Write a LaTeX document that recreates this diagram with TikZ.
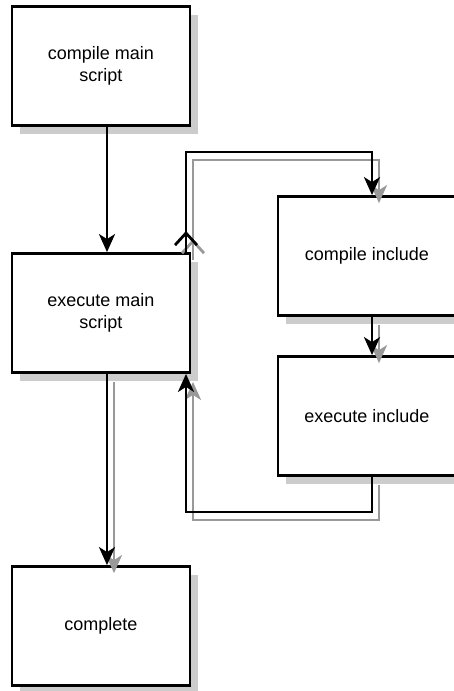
\documentclass[tikz,border=0pt]{standalone}
\usepackage{fontspec}
\setmainfont{Liberation Sans}
\usetikzlibrary{arrows.meta,shadows}
\begin{document}
\begin{tikzpicture}[x=1pt,y=-1pt,
		stepbox/.style={draw,line width=2.8pt,fill=white,minimum width=178pt,minimum height=119pt,align=center,font=\fontsize{18}{22}\selectfont,drop shadow={shadow xshift=8pt,shadow yshift=-8pt,fill=black!20,opacity=1}},
		flow/.style={line width=2.8pt,-{Stealth[length=18pt,width=16pt,inset=5pt]}},
		ghost/.style={black!40,transform canvas={shift={(7pt,-8pt)}}}]
			\useasboundingbox (0,0) rectangle (453,691);
			\node[stepbox] (b1) at (101,66) {compile main\\script};
			\node[stepbox] (b2) at (101,313) {execute main\\script};
			\node[stepbox] (b3) at (367,256) {compile include};
			\node[stepbox] (b4) at (367,416) {execute include};
			\node[stepbox] (b5) at (101,626) {complete};
			\coordinate (topL) at (186,152);
			\coordinate (topR) at (372,152);
			\coordinate (botR) at (372,512);
			\coordinate (botL) at (186,512);
			\coordinate (tail) at (b2.north -| topL);
			% shadows of the connectors
			\begin{scope}[ghost]
				\draw[flow] ([xshift=6pt]b2.south) -- ([xshift=6pt]b5.north);
				\draw[flow] (tail) -- (topL) -- (topR) -- (b3.north -| topR);
				\draw[flow] (b3.south -| topR) -- (b4.north -| topR);
				\draw[flow] (b4.south -| botR) -- (botR) -- (botL) -- (b2.south -| botL);
				\draw[line width=2.8pt] ([shift={(-11,-7)}]tail) -- ([shift={(0,-19)}]tail) -- ([shift={(11,-7)}]tail);
			\end{scope}
			\draw[flow] ([xshift=6pt]b1.south) -- ([xshift=6pt]b2.north);
			\draw[flow] ([xshift=6pt]b2.south) -- ([xshift=6pt]b5.north);
			\draw[flow] (tail) -- (topL) -- (topR) -- (b3.north -| topR);
			\draw[flow] (b3.south -| topR) -- (b4.north -| topR);
			\draw[flow] (b4.south -| botR) -- (botR) -- (botL) -- (b2.south -| botL);
			\draw[line width=2.8pt] ([shift={(-11,-7)}]tail) -- ([shift={(0,-19)}]tail) -- ([shift={(11,-7)}]tail);
		\end{tikzpicture}
\end{document}
